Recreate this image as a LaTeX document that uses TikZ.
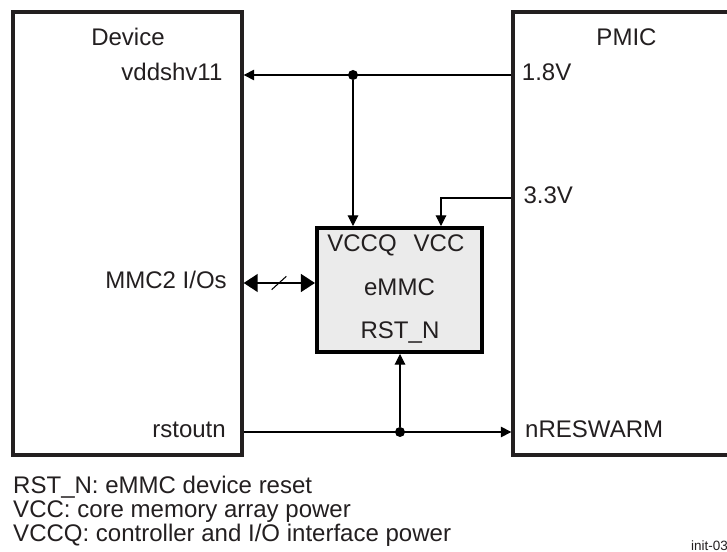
\documentclass[tikz,border=0pt]{standalone}
\usepackage{fontspec}
\setmainfont{Liberation Sans}
\usepackage{xcolor}
\usepackage{tikz}
\usetikzlibrary{arrows.meta,positioning}
\definecolor{chipgray}{HTML}{EBEBEB}
\definecolor{inkgray}{HTML}{231F20}

\begin{document}
\begin{tikzpicture}[
    >={Triangle[length=9pt,width=9pt]},
    font=\fontsize{20.5}{24}\selectfont, text=inkgray,
    block/.style={rectangle, draw=inkgray, line width=2.8pt, inner sep=0pt},
    chip/.style={rectangle, draw=black, fill=chipgray, line width=3.4pt, minimum width=4.95cm, minimum height=3.72cm, inner sep=0pt},
    pin/.style={inner sep=0pt, text height=0.9em, text depth=0pt},
    joint/.style={circle, fill=black, minimum size=0.3cm, inner sep=0pt},
    wire/.style={line width=0.9pt, black},
    bus/.style={>={Triangle[length=12pt,width=15pt]}, <->, line width=2.2pt, black}
  ]
  \useasboundingbox (0,0) rectangle (21.81,16.56);
  % Device and PMIC
  \node[block, minimum width=6.87cm, minimum height=13.29cm] (dev) at (3.825,9.555) {};
  \node[block, minimum width=6.81cm, minimum height=13.29cm] (pmic) at (18.795,9.555) {};
  \node (devname) at (3.84,15.45) {Device};
  \node (pmicname) at (18.795,15.45) {PMIC};
  % eMMC chip
  \node[chip] (emmc) at (11.985,7.86) {};
  \node[pin] (vccq) at (10.86,9.18) {VCCQ};
  \node[pin] (vcc) at (13.17,9.18) {VCC};
  \node[pin] (emmcname) at (emmc.center) {eMMC};
  \node[pin] (rstn) at (12.0,6.57) {RST\_N};
  % pins
  \node[pin, anchor=east] (vdd) at (6.68,14.31) {vddshv11};
  \node[pin, anchor=east] (mmc) at (6.81,8.07) {MMC2 I/Os};
  \node[pin, anchor=east] (rstout) at (6.78,3.6) {rstoutn};
  \node[pin, anchor=west] (v18) at (15.65,14.31) {1.8V};
  \node[pin, anchor=west] (v33) at (15.7,10.62) {3.3V};
  \node[pin, anchor=west] (nres) at (15.75,3.6) {nRESWARM};
  % wires
  \node[joint] (j1) at (10.59,14.31) {};
  \node[joint] (j2) at (12.0,3.6) {};
  \coordinate (c33) at (13.23,10.62);
  \coordinate (slash) at (8.37,8.07);
  \draw[wire, ->] (pmic.west |- v18) -- (dev.east |- vdd);
  \draw[wire, ->] (j1) -- (j1 |- emmc.north);
  \draw[wire, ->] (pmic.west |- v33) -- (c33) -- (c33 |- emmc.north);
  \draw[bus] (dev.east |- mmc) -- (emmc.west |- mmc);
  \draw[wire] ([shift={(-0.22,-0.2)}]slash) -- ([shift={(0.22,0.2)}]slash);
  \draw[wire, ->] (dev.east |- rstout) -- (pmic.west |- nres);
  \draw[wire, ->] (j2) -- (j2 |- emmc.south);
  % legend
  \node[anchor=base west, inner sep=0pt] (leg1) at (0.39,1.74) {RST\_N: eMMC device reset};
  \node[anchor=base west, inner sep=0pt] (leg2) at (0.39,1.03) {VCC: core memory array power};
  \node[anchor=base west, inner sep=0pt] (leg3) at (0.39,0.33) {VCCQ: controller and I/O interface power};
  \node[anchor=base east, inner sep=0pt, font=\fontsize{11.5}{13}\selectfont] (tag) at (21.84,0.05) {init-03};
\end{tikzpicture}
\end{document}
